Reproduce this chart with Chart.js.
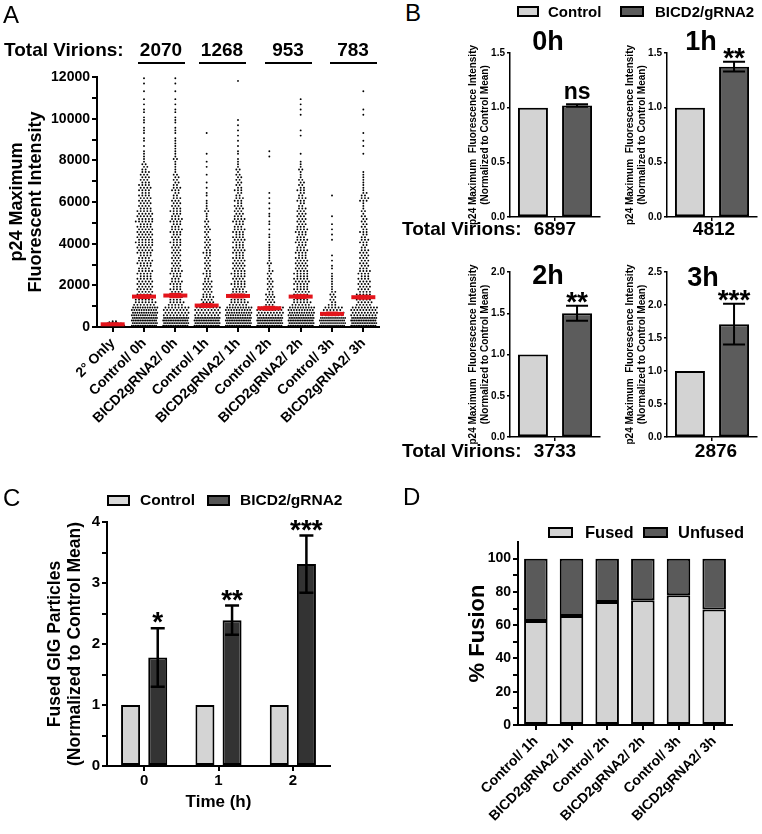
<!DOCTYPE html>
<html>
<head>
<meta charset="utf-8">
<script src="https://cdn.jsdelivr.net/npm/chart.js@4.4.1/dist/chart.umd.min.js"></script>
<style>
  body { margin: 0; background: #fff; font-family: "Liberation Sans", Arial, sans-serif; }
  #page { position: relative; width: 762px; height: 834px; overflow: hidden; }
  canvas { position: absolute; }
  .t { position: absolute; white-space: nowrap; font-weight: bold; line-height: 1; color: #000; }
  .c { text-align: center; width: 100px; }
  .letter { position: absolute; font-size: 24px; line-height: 1; }
  .sw { position: absolute; border: 2px solid #000; box-sizing: border-box; }
  .ul { position: absolute; height: 0; border-top: 2px solid #000; }
</style>
</head>
<body>
<div id="page">
  <canvas id="cA" width="395" height="450" style="left:0;top:0"></canvas>
  <canvas id="cB0" width="150" height="240" style="left:455px;top:0"></canvas>
  <canvas id="cB1" width="150" height="240" style="left:612px;top:0"></canvas>
  <canvas id="cB2" width="150" height="215" style="left:455px;top:240px"></canvas>
  <canvas id="cB3" width="150" height="215" style="left:612px;top:240px"></canvas>
  <canvas id="cC" width="390" height="354" style="left:0;top:480px"></canvas>
  <canvas id="cD" width="377" height="354" style="left:385px;top:480px"></canvas>

  <div class="letter" style="left:3px;top:3px">A</div>
  <div class="letter" style="left:405px;top:1px">B</div>
  <div class="letter" style="left:3px;top:486px">C</div>
  <div class="letter" style="left:403px;top:485px">D</div>

  <!-- panel A header -->
  <div class="t" style="left:4px;top:40px;font-size:19px">Total Virions:</div>
  <div id="virA"></div>

  <!-- panel B legend and labels -->
  <div class="sw" style="left:517px;top:6px;width:22px;height:11px;background:#d3d3d3"></div>
  <div class="t" style="left:548px;top:4px;font-size:15px">Control</div>
  <div class="sw" style="left:620px;top:6px;width:24px;height:11px;background:#5c5c5c"></div>
  <div class="t" style="left:655px;top:4px;font-size:15px">BICD2/gRNA2</div>
  <div class="t" style="left:402px;top:219px;font-size:19px">Total Virions:</div>
  <div class="t" style="left:402px;top:441px;font-size:19px">Total Virions:</div>
  <div id="virB"></div>

  <!-- panel C legend -->
  <div class="sw" style="left:107px;top:495px;width:23px;height:11px;background:#d9d9d9"></div>
  <div class="t" style="left:140px;top:492px;font-size:15.5px">Control</div>
  <div class="sw" style="left:207px;top:495px;width:23px;height:11px;background:#555"></div>
  <div class="t" style="left:240px;top:492px;font-size:15.5px">BICD2/gRNA2</div>

  <!-- panel D legend -->
  <div class="sw" style="left:548px;top:527px;width:25px;height:11px;background:#d3d3d3"></div>
  <div class="t" style="left:585px;top:524px;font-size:16.5px">Fused</div>
  <div class="sw" style="left:643px;top:527px;width:25px;height:11px;background:#5a5a5a"></div>
  <div class="t" style="left:678px;top:524px;font-size:16.5px">Unfused</div>
</div>

<script>
// ---------- panel A: dot plot ----------
const groupsA = ["2° Only", "Control/ 0h", "BICD2gRNA2/ 0h", "Control/ 1h", "BICD2gRNA2/ 1h",
                 "Control/ 2h", "BICD2gRNA2/ 2h", "Control/ 3h", "BICD2gRNA2/ 3h"];
// dot counts per 500-unit band, from 0 upward
const secondaryOnly = [14, 10, 5];          // per 100-unit band
const ctrl0h = [60, 46, 26, 20, 19, 18, 18, 20, 21, 19, 21, 17, 15, 15, 12, 7, 4, 2, 3, 3, 3, 2, 1, 2];
const bicd0h = [60, 32, 18, 15, 14, 14, 12, 12, 13, 14, 14, 13, 10, 10, 7, 4, 5, 4, 3, 3, 3, 2, 1, 2];
const ctrl1h = [60, 32, 17, 12, 10, 9, 8, 9, 7, 7, 5, 5, 3, 2, 1, 2, 1, 0, 1, 0, 0, 0, 0, 0];
const bicd1h = [60, 42, 22, 18, 17, 17, 15, 15, 15, 14, 14, 11, 10, 9, 7, 5, 3, 2, 2, 2, 0, 0, 0, 1];
const ctrl2h = [60, 36, 12, 9, 7, 6, 5, 4, 3, 2, 3, 2, 2, 0, 0, 0, 2, 0, 0, 0, 0, 0, 0, 0];
const bicd2h = [60, 42, 22, 19, 19, 17, 15, 14, 14, 14, 12, 10, 10, 9, 5, 5, 1, 0, 2, 0, 2, 2, 0, 0];
const ctrl3h = [52, 26, 9, 6, 4, 3, 2, 0, 2, 2, 1, 0, 1, 0, 0, 0, 0, 0, 0, 0, 0, 0, 0, 0];
const bicd3h = [60, 36, 20, 17, 15, 14, 12, 10, 10, 9, 7, 5, 10, 4, 4, 0, 1, 2, 1, 0, 2, 0, 1, 0];
const meansA = [130, 1460, 1510, 1030, 1490, 900, 1460, 630, 1430];
const semA = [30, 70, 80, 70, 70, 70, 70, 60, 70];
const virionsA = [2070, 1268, 953, 783];

// ---------- panel B ----------
const timesB = ["0h", "1h", "2h", "3h"];
const ctrlB = [1, 1, 1, 1];
const bicdB = [1.02, 1.375, 1.5, 1.71];
const errB = [0.012, 0.045, 0.09, 0.31];
const sigB = ["ns", "**", "**", "***"];
const maxB = [1.5, 1.5, 2.0, 2.5];
const virionsB = [6897, 4812, 3733, 2876];

// ---------- panel C ----------
const timesC = ["0", "1", "2"];
const ctrlC = [1, 1, 1];
const bicdC = [1.78, 2.39, 3.31];
const errC = [0.48, 0.24, 0.47];
const sigC = ["*", "**", "***"];

// ---------- panel D ----------
const groupsD = ["Control/ 1h", "BICD2gRNA2/ 1h", "Control/ 2h", "BICD2gRNA2/ 2h", "Control/ 3h", "BICD2gRNA2/ 3h"];
const fusedD = [62.5, 65.5, 74, 75, 78, 69.5];
const unfusedD = fusedD.map(v => 100 - v);

Chart.defaults.font.family = '"Liberation Sans", Arial, sans-serif';
Chart.defaults.color = '#000';

const FONT = '"Liberation Sans", Arial, sans-serif';

function axis(size, tickLength) {
  return {
    border: { color: '#000', width: 2 },
    grid: { drawOnChartArea: false, color: '#000', lineWidth: 2, tickLength: tickLength || 5 },
    ticks: { color: '#000', font: { size: size, weight: 'bold' }, padding: 2, autoSkip: false }
  };
}

// error bars + significance marks drawn over the bars
const errorBars = {
  id: 'errorBars',
  afterDatasetsDraw(chart, args, opts) {
    const ctx = chart.ctx, y = chart.scales.y;
    chart.data.datasets.forEach((ds, di) => {
      if (!ds.errors) return;
      chart.getDatasetMeta(di).data.forEach((el, i) => {
        const v = ds.data[i], e = ds.errors[i];
        const top = y.getPixelForValue(v + e), bot = y.getPixelForValue(v - e);
        ctx.save();
        ctx.strokeStyle = '#000';
        ctx.lineWidth = opts.lineWidth;
        ctx.beginPath();
        ctx.moveTo(el.x, top); ctx.lineTo(el.x, bot);
        ctx.moveTo(el.x - opts.cap, top); ctx.lineTo(el.x + opts.cap, top);
        ctx.moveTo(el.x - opts.cap, bot); ctx.lineTo(el.x + opts.cap, bot);
        ctx.stroke();
        const m = ds.marks && ds.marks[i];
        if (m) {
          const star = m[0] === '*';
          const size = star ? opts.starSize : opts.nsSize;
          ctx.fillStyle = '#000';
          ctx.font = 'bold ' + size + 'px ' + FONT;
          ctx.textAlign = 'center';
          ctx.textBaseline = 'alphabetic';
          ctx.fillText(m, el.x, star ? top - opts.gap + size * 0.29 : top - opts.gap - 2);
        }
        ctx.restore();
      });
    });
  }
};

// place each band's dots in rows, spread sideways around the category
const PX_PER_CAT = 291 / 9;
function swarm(ci, counts, binSize, rows) {
  const pts = [];
  counts.forEach((n, b) => {
    if (!n) return;
    const used = Math.min(rows, n);
    for (let r = 0; r < used; r++) {
      const m = Math.floor(n / used) + (r < n % used ? 1 : 0);
      const slot = used === rows ? r : Math.floor((r + 0.5) * rows / used);
      const yv = (b + (slot + 0.5) / rows) * binSize;
      const gap = m > 1 ? Math.min(3.4, 25 / (m - 1)) : 0;
      const shift = slot % 2 ? gap / 2 : 0;
      for (let j = 0; j < m; j++) {
        pts.push({ x: ci + ((j - (m - 1) / 2) * gap + shift) / PX_PER_CAT, y: yv });
      }
    }
  });
  return pts;
}

const bandsA = [ctrl0h, bicd0h, ctrl1h, bicd1h, ctrl2h, bicd2h, ctrl3h, bicd3h];
let dots = swarm(0, secondaryOnly, 100, 2);
bandsA.forEach((c, i) => { dots = dots.concat(swarm(i + 1, c, 500, 4)); });

new Chart(document.getElementById('cA'), {
  type: 'scatter',
  data: {
    datasets: [
      {
        data: meansA.map((m, i) => ({ x: i, y: m })),
        pointStyle: 'line', pointRadius: 12, pointBorderWidth: 4,
        pointBorderColor: '#e3141b', pointBackgroundColor: '#e3141b'
      },
      {
        data: meansA.flatMap((m, i) => [{ x: i, y: m + semA[i] }, { x: i, y: m - semA[i] }]),
        pointStyle: 'line', pointRadius: 6, pointBorderWidth: 2,
        pointBorderColor: '#e3141b', pointBackgroundColor: '#e3141b'
      },
      {
        data: dots,
        pointRadius: 0.95, pointBorderWidth: 0, pointBackgroundColor: '#000'
      }
    ]
  },
  options: {
    responsive: false, animation: false,
    events: [],
    layout: { padding: { top: 77, right: 7, left: 0, bottom: 0 } },
    plugins: { legend: { display: false }, tooltip: { enabled: false } },
    scales: {
      x: Object.assign(axis(14), {
        type: 'linear', min: -0.5, max: 8.5,
        afterBuildTicks: s => { s.ticks = groupsA.map((_, i) => ({ value: i })); },
        afterFit: s => { s.height = 123; },
        ticks: { color: '#000', font: { size: 14, weight: 'bold' }, padding: 3,
                 minRotation: 45, maxRotation: 45, autoSkip: false,
                 callback: v => groupsA[v] }
      }),
      y: Object.assign(axis(14), {
        min: 0, max: 12000,
        afterFit: s => { s.width = 97; },
        ticks: { color: '#000', font: { size: 14, weight: 'bold' }, padding: 2, autoSkip: false,
                 stepSize: 1000, callback: v => (v % 2000 === 0 ? v : '') },
        title: { display: true, text: ['p24 Maximum', 'Fluorescent Intensity'],
                 font: { size: 18, weight: 'bold', lineHeight: 1.05 }, padding: { top: 8, bottom: 0 } }
      })
    }
  }
});

// virion totals above panel A, one per time point pair
const virA = document.getElementById('virA');
const virACenters = [161, 222, 288, 353];
virionsA.forEach((v, i) => {
  virA.insertAdjacentHTML('beforeend',
    '<div class="t c" style="left:' + (virACenters[i] - 50) + 'px;top:40px;font-size:19px">' + v + '</div>' +
    '<div class="ul" style="left:' + (virACenters[i] - 23) + 'px;top:62px;width:47px"></div>');
});

// ---------- panel B charts ----------
const bBoxes = [
  { id: 'cB0', top: 53, xh: 23 },
  { id: 'cB1', top: 53, xh: 23 },
  { id: 'cB2', top: 32, xh: 18 },
  { id: 'cB3', top: 32, xh: 18 }
];
const bTitlePos = [[548, 28], [701, 28], [548, 262], [703, 264]];
const bVirPos = [[555, 219], [714, 219], [555, 441], [716, 441]];
const virB = document.getElementById('virB');

timesB.forEach((t, k) => {
  new Chart(document.getElementById(bBoxes[k].id), {
    type: 'bar',
    data: {
      labels: [''],
      datasets: [
        { label: 'Control', data: [ctrlB[k]], backgroundColor: '#d3d3d3',
          borderColor: '#000', borderWidth: 2, borderSkipped: false,
          categoryPercentage: 0.98, barPercentage: 0.68 },
        { label: 'BICD2/gRNA2', data: [bicdB[k]], errors: [errB[k]], marks: [sigB[k]],
          backgroundColor: '#5c5c5c', borderColor: '#000', borderWidth: 2, borderSkipped: false,
          categoryPercentage: 0.98, barPercentage: 0.68 }
      ]
    },
    options: {
      responsive: false, animation: false, events: [],
      layout: { padding: { top: bBoxes[k].top, right: 5, left: 0, bottom: 0 } },
      plugins: {
        legend: { display: false }, tooltip: { enabled: false },
        errorBars: { cap: 11, lineWidth: 2, starSize: 28, nsSize: 23, gap: 3 }
      },
      scales: {
        x: Object.assign(axis(10, 4), {
          grid: { drawOnChartArea: false, color: '#000', lineWidth: 1.5, tickLength: 4, offset: false },
          border: { color: '#000', width: 1.5 },
          afterFit: s => { s.height = bBoxes[k].xh; },
          ticks: { display: false }
        }),
        y: Object.assign(axis(10, 3), {
          min: 0, max: maxB[k],
          grid: { drawOnChartArea: false, color: '#000', lineWidth: 1.5, tickLength: 3 },
          border: { color: '#000', width: 1.5 },
          afterFit: s => { s.width = 55; },
          ticks: { color: '#000', font: { size: 10, weight: 'bold' }, padding: 2,
                   stepSize: 0.5, callback: v => v.toFixed(1) },
          title: { display: true,
                   text: ['p24 Maximum  Fluorescence Intensity', '(Normalized to Control Mean)'],
                   font: { size: 10, weight: 'bold', lineHeight: 1.2 }, padding: { top: 12, bottom: 0 } }
        })
      }
    },
    plugins: [errorBars]
  });
  virB.insertAdjacentHTML('beforeend',
    '<div class="t c" style="left:' + (bTitlePos[k][0] - 50) + 'px;top:' + bTitlePos[k][1] + 'px;font-size:27px">' + t + '</div>' +
    '<div class="t c" style="left:' + (bVirPos[k][0] - 50) + 'px;top:' + bVirPos[k][1] + 'px;font-size:19px">' + virionsB[k] + '</div>');
});

// ---------- panel C ----------
new Chart(document.getElementById('cC'), {
  type: 'bar',
  data: {
    labels: timesC,
    datasets: [
      { label: 'Control', data: ctrlC, backgroundColor: '#d4d4d4', borderColor: '#000',
        borderWidth: 2, borderSkipped: false, categoryPercentage: 0.73, barPercentage: 0.7 },
      { label: 'BICD2/gRNA2', data: bicdC, errors: errC, marks: sigC, backgroundColor: '#333',
        borderColor: '#000', borderWidth: 2, borderSkipped: false, categoryPercentage: 0.73, barPercentage: 0.7 }
    ]
  },
  options: {
    responsive: false, animation: false, events: [],
    layout: { padding: { top: 42, right: 60, left: 0, bottom: 0 } },
    plugins: {
      legend: { display: false }, tooltip: { enabled: false },
      errorBars: { cap: 7, lineWidth: 2.5, starSize: 28, nsSize: 23, gap: 5 }
    },
    scales: {
      x: Object.assign(axis(15), {
        grid: { drawOnChartArea: false, color: '#000', lineWidth: 2, tickLength: 5, offset: false },
        afterFit: s => { s.height = 68; },
        ticks: { color: '#000', font: { size: 15, weight: 'bold' }, padding: 1 },
        title: { display: true, text: 'Time (h)', font: { size: 17, weight: 'bold' },
                 padding: { top: 0, bottom: 21 } }
      }),
      y: Object.assign(axis(15), {
        min: 0, max: 4,
        afterFit: s => { s.width = 107; },
        ticks: { color: '#000', font: { size: 15, weight: 'bold' }, padding: 2, autoSkip: false,
                 stepSize: 0.5, callback: v => (Number.isInteger(v) ? v : '') },
        title: { display: true, text: ['Fused GIG Particles', '(Normalized to Control Mean)'],
                 font: { size: 17.5, weight: 'bold', lineHeight: 1.15 }, padding: { top: 45, bottom: 0 } }
      })
    }
  },
  plugins: [errorBars]
});

// ---------- panel D ----------
new Chart(document.getElementById('cD'), {
  type: 'bar',
  data: {
    labels: groupsD,
    datasets: [
      { label: 'Fused', data: fusedD, backgroundColor: '#d3d3d3', borderColor: '#000',
        borderWidth: 2, borderSkipped: false, barPercentage: 0.66, categoryPercentage: 1 },
      { label: 'Unfused', data: unfusedD, backgroundColor: '#5a5a5a', borderColor: '#000',
        borderWidth: 2, borderSkipped: false, barPercentage: 0.66, categoryPercentage: 1 }
    ]
  },
  options: {
    responsive: false, animation: false, events: [],
    layout: { padding: { top: 62, right: 30, left: 0, bottom: 0 } },
    plugins: { legend: { display: false }, tooltip: { enabled: false } },
    scales: {
      x: Object.assign(axis(14), {
        stacked: true,
        grid: { drawOnChartArea: false, color: '#000', lineWidth: 2, tickLength: 5, offset: false },
        afterFit: s => { s.height = 109; },
        ticks: { color: '#000', font: { size: 14, weight: 'bold' }, padding: 3,
                 minRotation: 45, maxRotation: 45, autoSkip: false }
      }),
      y: Object.assign(axis(14), {
        stacked: true, min: 0, max: 110,
        afterFit: s => { s.width = 133; },
        afterBuildTicks: s => { s.ticks = s.ticks.filter(t => t.value <= 100); },
        ticks: { color: '#000', font: { size: 14, weight: 'bold' }, padding: 2, autoSkip: false,
                 stepSize: 10, callback: v => (v % 20 === 0 ? v : '') },
        title: { display: true, text: '% Fusion', font: { size: 22, weight: 'bold' },
                 padding: { top: 80, bottom: 0 } }
      })
    }
  }
});
</script>
</body>
</html>
